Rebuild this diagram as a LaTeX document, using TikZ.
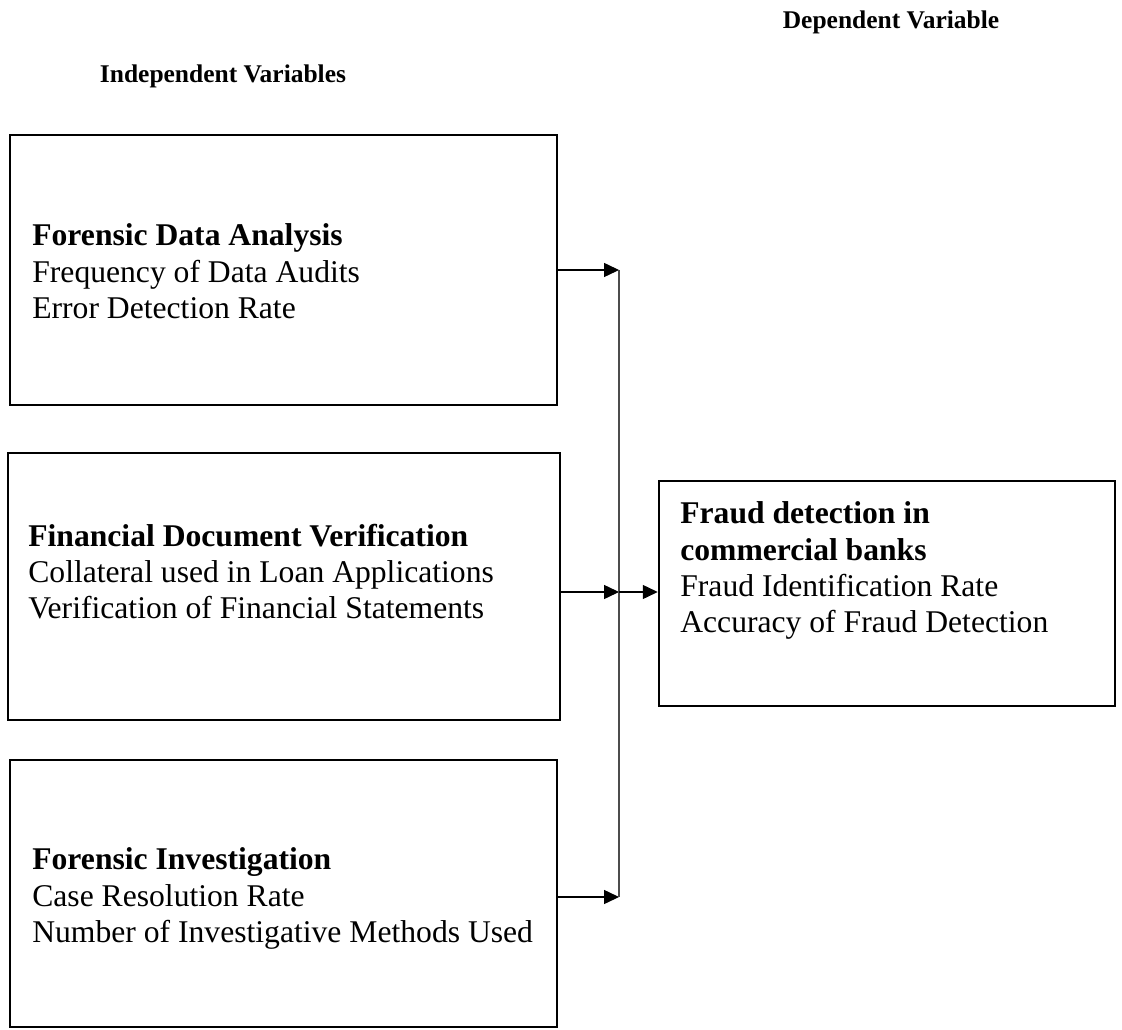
\documentclass[tikz,border=0pt]{standalone}
\usepackage{fontspec}
\setmainfont{Liberation Serif}
\usetikzlibrary{arrows.meta}

\begin{document}
\begin{tikzpicture}[x=0.02cm, y=-0.02cm, >={Triangle[length=8.5pt, width=8pt]},
    box/.style={rectangle, draw, line width=1.5pt, inner sep=0pt},
    txt/.style={anchor=north west, align=left, inner sep=0pt, font=\fontsize{18}{20.7}\selectfont},
    head/.style={inner sep=0pt, font=\fontsize{14.5}{17}\selectfont\bfseries}]
      \useasboundingbox (0,0) rectangle (1122,1030);
      \node (indep) [head] at (223,76) {Independent Variables};
      \node (dep) [head] at (891,22) {Dependent Variable};
      % independent variables
      \node (fda) [box, minimum width=10.94cm, minimum height=5.4cm] at (283.5,270) {};
      \node (fdv) [box, minimum width=11.04cm, minimum height=5.34cm] at (284,586.5) {};
      \node (fi) [box, minimum width=10.94cm, minimum height=5.34cm] at (283.5,893.5) {};
      \node (fdatxt) [txt] at (32,223.5) {\textbf{Forensic Data Analysis}\\Frequency of Data Audits\\Error Detection Rate};
      \node (fdvtxt) [txt] at (28,523.5) {\textbf{Financial Document Verification}\\Collateral used in Loan Applications\\Verification of Financial Statements};
      \node (fitxt) [txt] at (32,847.5) {\textbf{Forensic Investigation}\\Case Resolution Rate\\Number of Investigative Methods Used};
      % dependent variable
      \node (fdcb) [box, minimum width=9.12cm, minimum height=4.5cm] at (887,593.5) {};
      \node (fdcbtxt) [txt] at (680,501.5) {\textbf{Fraud detection in}\\\textbf{commercial banks}\\Fraud Identification Rate\\Accuracy of Fraud Detection};
      \coordinate (j1) at (619,270);
      \coordinate (j2) at (619,592);
      \coordinate (j3) at (619,897);
      \draw [->, line width=0.6pt] (fda.east |- j1) -- (j1);
      \draw [->, line width=0.6pt] (fdv.east |- j2) -- (j2);
      \draw [->, line width=0.6pt] (fi.east |- j3) -- (j3);
      \draw [line width=1pt, black!70] (j1) -- (j3);
      \draw [->, line width=0.6pt] (j2) -- (fdcb.west |- j2);
  \end{tikzpicture}
\end{document}
